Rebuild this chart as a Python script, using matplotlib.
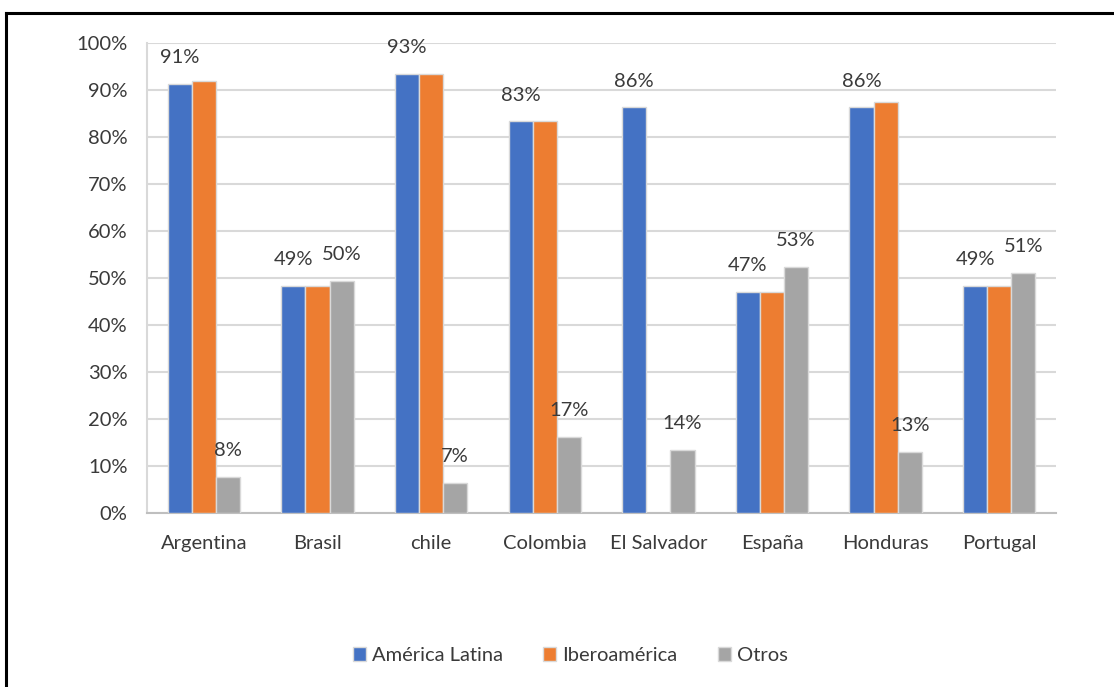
import numpy as np
import matplotlib.pyplot as plt
from matplotlib.lines import Line2D

paises = ["Argentina", "Brasil", "chile", "Colombia", "El Salvador", "España", "Honduras", "Portugal"]
america_latina = [91.2, 48.4, 93.4, 83.3, 86.3, 47.0, 86.3, 48.4]
iberoamerica = [92.0, 48.4, 93.4, 83.3, np.nan, 47.0, 87.4, 48.4]
otros = [7.7, 49.4, 6.4, 16.2, 13.4, 52.4, 12.9, 51.1]
etiquetas_al = ["91%", "49%", "93%", "83%", "86%", "47%", "86%", "49%"]
etiquetas_otros = ["8%", "50%", "7%", "17%", "14%", "53%", "13%", "51%"]

plt.rcParams['font.family'] = ['Lato', 'DejaVu Sans']
fs = 14.5
gris_texto = "#3a3a3a"

fig = plt.figure(figsize=(11.14, 6.87), dpi=100)
ax = fig.add_axes([0.132, 0.2533, 0.816, 0.6841])

x = np.arange(len(paises))
w = 0.212
series = [
    (america_latina, "América Latina", "#4472C4"),
    (iberoamerica, "Iberoamérica", "#ED7D31"),
    (otros, "Otros", "#A5A5A5"),
]
barras = []
for i, (vals, nombre, color) in enumerate(series):
    b = ax.bar(x + (i - 1) * w, vals, w, color=color, edgecolor="#d9d9d9",
               linewidth=1.0, label=nombre, zorder=3)
    barras.append(b)

for rect, txt in zip(barras[0], etiquetas_al):
    ax.annotate(txt, (rect.get_x() + rect.get_width() / 2, rect.get_height()),
                xytext=(0, 19), textcoords="offset points", ha="center", va="center",
                fontsize=fs, color=gris_texto)
for rect, txt in zip(barras[2], etiquetas_otros):
    ax.annotate(txt, (rect.get_x() + rect.get_width() / 2, rect.get_height()),
                xytext=(0, 19), textcoords="offset points", ha="center", va="center",
                fontsize=fs, color=gris_texto)

ax.set_xlim(-0.5, len(paises) - 0.5)
ax.set_ylim(0, 100)
ax.set_yticks(np.arange(0, 101, 10))
ax.set_yticklabels([f"{v}%" for v in range(0, 101, 10)])
ax.set_xticks(x)
ax.set_xticklabels(paises)
ax.tick_params(axis="both", length=0, labelsize=fs, labelcolor=gris_texto)
ax.tick_params(axis="y", pad=14)
ax.tick_params(axis="x", pad=16)
ax.grid(axis="y", color="#d9d9d9", linewidth=1.5, zorder=0)
for s in ["top", "right"]:
    ax.spines[s].set_visible(False)
ax.spines["left"].set_color("#d9d9d9")
ax.spines["left"].set_linewidth(1.5)
ax.spines["bottom"].set_color("#bfbfbf")
ax.spines["bottom"].set_linewidth(1.5)

fig.legend(handles=barras, labels=[s[1] for s in series], loc="center",
           bbox_to_anchor=(0.512, 0.046), ncol=3, frameon=False, fontsize=fs,
           handlelength=0.65, handleheight=0.65, handletextpad=0.3, columnspacing=2.0,
           labelcolor=gris_texto)

# marco negro (solo arriba e izquierda)
fig.add_artist(Line2D([0.0058, 1.0], [0.9818, 0.9818], color="black", linewidth=2.2,
                      transform=fig.transFigure))
fig.add_artist(Line2D([0.0058, 0.0058], [0.0, 0.9818], color="black", linewidth=2.2,
                      transform=fig.transFigure))

fig.savefig("out.png", dpi=100)
